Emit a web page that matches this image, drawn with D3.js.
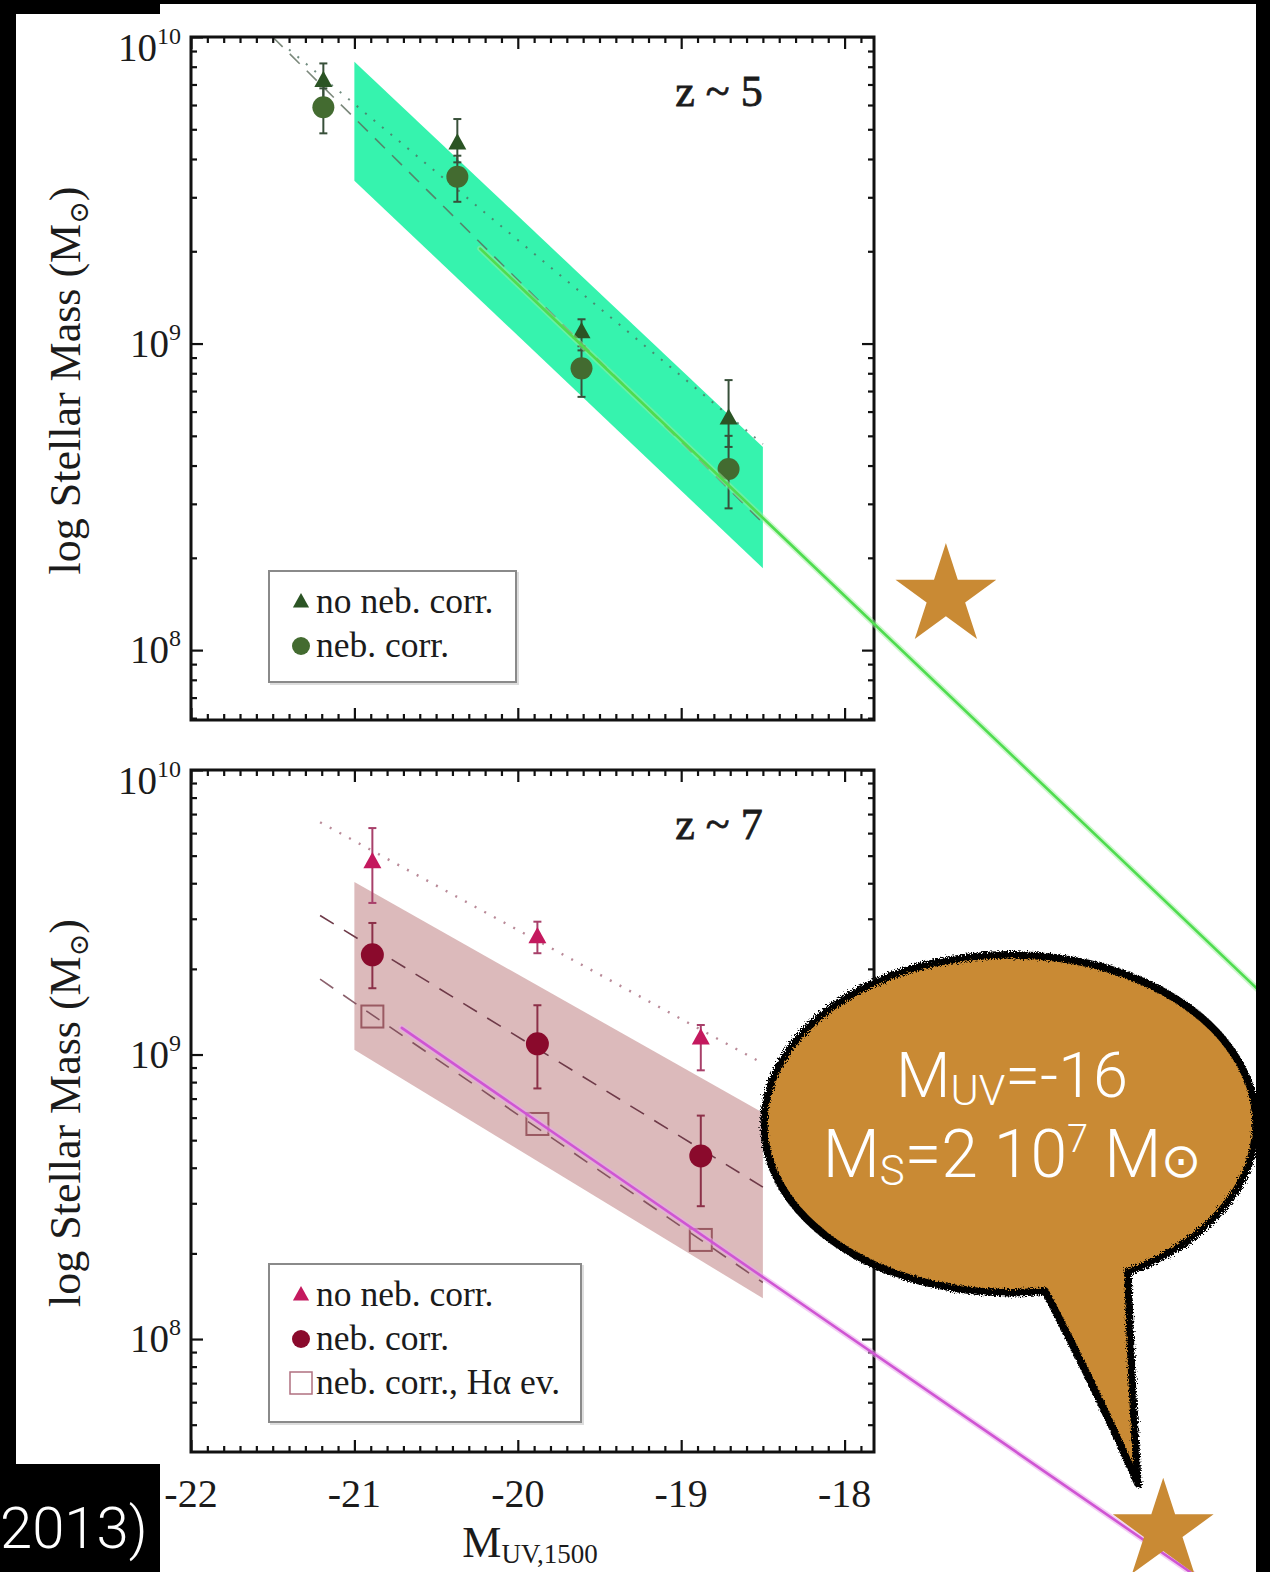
<!DOCTYPE html>
<html>
<head>
<meta charset="utf-8">
<script src="https://cdn.jsdelivr.net/npm/d3@7"></script>
<style>
body{margin:0;background:#000;}
svg{display:block}
text.serif{font-family:"Liberation Serif","DejaVu Serif",serif;fill:#1b1b1b}
text.thin{font-family:"Roboto","Lato",sans-serif;font-weight:300;fill:#fff}
</style>
</head>
<body>
<script>
// ---- data ----
let xTicks = [-22, -21, -20, -19, -18]
let yTickExp = [8, 9, 10]

// z ~ 5
let z5Muv = [-21.19, -20.37, -19.61, -18.71]
let z5NoNeb = [7.2e9, 4.5e9, 1.09e9, 5.7e8]
let z5NoNebHi = [8.2e9, 5.4e9, 1.2e9, 7.6e8]
let z5NoNebLo = [6.3e9, 3.9e9, 9.5e8, 4.6e8]
let z5Neb = [5.9e9, 3.5e9, 8.3e8, 3.9e8]
let z5NebHi = [6.8e9, 4.1e9, 9.8e8, 5.0e8]
let z5NebLo = [4.85e9, 2.9e9, 6.7e8, 2.9e8]
let z5BandMuv = [-21, -18.5]
let z5BandHi = [8.3e9, 4.6e8]
let z5BandLo = [3.4e9, 1.85e8]
let z5DottedMuv = [-21.4, -18.5], z5Dotted = [9.1e9, 4.7e8]
let z5DashedMuv = [-21.5, -18.5], z5Dashed = [1.0e10, 2.6e8]
let z5FitMuv = [-20.23, -15.3], z5Fit = [2.04e9, 6.4e6]

// z ~ 7
let z7Muv = [-20.89, -19.88, -18.88]
let z7NoNeb = [4.75e9, 2.59e9, 1.14e9]
let z7NoNebHi = [6.25e9, 2.93e9, 1.27e9]
let z7NoNebLo = [3.41e9, 2.27e9, 8.8e8]
let z7Neb = [2.24e9, 1.09e9, 4.4e8]
let z7NebHi = [2.9e9, 1.49e9, 6.1e8]
let z7NebLo = [1.71e9, 7.6e8, 2.93e8]
let z7Halpha = [1.36e9, 5.7e8, 2.23e8]
let z7BandMuv = [-21, -18.5]
let z7BandHi = [4.04e9, 6.24e8]
let z7BandLo = [1.04e9, 1.39e8]
let z7DottedMuv = [-21.21, -18.5], z7Dotted = [6.55e9, 9.3e8]
let z7DashedMuv = [-21.21, -18.5], z7Dashed = [3.08e9, 3.42e8]
let z7Dashed2Muv = [-21.21, -18.5], z7Dashed2 = [1.84e9, 1.58e8]
let z7FitMuv = [-20.71, -15.3], z7Fit = [1.24e9, 8.9e6]

// annotation stars (M_UV, mass)
let starTop = [-17.38, 1.5e8]
let starBottom = [-16.05, 2.12e7]

// ---- drawing ----
const W = 1270, H = 1572
const svg = d3.select("body").append("svg").attr("width", W).attr("height", H)

const defs = svg.append("defs")
const rough = defs.append("filter").attr("id", "rough")
  .attr("x", "-10%").attr("y", "-10%").attr("width", "120%").attr("height", "120%")
rough.append("feTurbulence").attr("type", "fractalNoise").attr("baseFrequency", 0.7).attr("numOctaves", 3).attr("result", "n")
rough.append("feDisplacementMap").attr("in", "SourceGraphic").attr("in2", "n").attr("scale", 7)

svg.append("rect").attr("width", W).attr("height", H).attr("fill", "#000")
svg.append("path").attr("d", "M16,14H160V4H1256V1572H16Z").attr("fill", "#fff")

const x = d3.scaleLinear().domain([-22, -17.82]).range([191, 874])

const panels = [
  {top: 37, bottom: 720, yDom: [Math.pow(10, 7.772), 1e10], label: "z ~ 5",
   band: [z5BandMuv, z5BandHi, z5BandLo], bandColor: "#36f3ae"},
  {top: 770, bottom: 1452, yDom: [Math.pow(10, 7.603), 1e10], label: "z ~ 7",
   band: [z7BandMuv, z7BandHi, z7BandLo], bandColor: "#dcbabb"}
]
panels.forEach(p => {
  p.y = d3.scaleLog().domain(p.yDom).range([p.bottom, p.top])
  p.g = svg.append("g")
})

function tri(s) { return `M0,${-s}L${s * 0.9},${s * 0.62}L${-s * 0.9},${s * 0.62}Z` }

let minorX = d3.range(0, 42).map(i => -22 + i / 10).filter(v => Math.abs(v - Math.round(v)) > 1e-6)

function drawFrame(p, showX) {
  let g = p.g
  let y = p.y
  let minorY = []
  ;[7, 8, 9].forEach(d => { for (let k = 2; k <= 9; k++) { let v = k * Math.pow(10, d); if (v >= p.yDom[0] && v <= p.yDom[1]) minorY.push(v) } })
  let majY = yTickExp.map(e => Math.pow(10, e))
  let ax = [
    [d3.axisBottom(x), `translate(0,${p.bottom})`, minorX, xTicks],
    [d3.axisTop(x), `translate(0,${p.top})`, minorX, xTicks],
    [d3.axisLeft(y), `translate(191,0)`, minorY, majY],
    [d3.axisRight(y), `translate(874,0)`, minorY, majY]
  ]
  ax.forEach(a => {
    [[a[2], -6], [a[3], -12]].forEach(t => {
      let axg = g.append("g").attr("transform", a[1])
        .call(a[0].tickValues(t[0]).tickSize(t[1]).tickFormat(""))
      axg.select(".domain").remove()
      axg.selectAll("line").attr("stroke", "#111").attr("stroke-width", 2.2)
    })
  })
  g.append("rect").attr("x", 191).attr("y", p.top).attr("width", 874 - 191).attr("height", p.bottom - p.top)
    .attr("fill", "none").attr("stroke", "#111").attr("stroke-width", 3)

  // y tick labels 10^n
  yTickExp.forEach(e => {
    let cy = Math.max(y(Math.pow(10, e)), p.top + 11)
    let t = g.append("text").attr("class", "serif").attr("x", 181).attr("y", cy + 13)
      .attr("text-anchor", "end").attr("font-size", 39)
    t.append("tspan").text("10")
    t.append("tspan").attr("font-size", 24).attr("dy", -17).text(e)
  })
  if (showX) {
    xTicks.forEach(v => {
      g.append("text").attr("class", "serif").attr("x", x(v)).attr("y", p.bottom + 55)
        .attr("text-anchor", "middle").attr("font-size", 40).text(v)
    })
  }
  // y title
  let cy = (p.top + p.bottom) / 2 + 2
  let yt = g.append("text").attr("class", "serif").attr("font-size", 44)
    .attr("transform", `translate(80,${cy}) rotate(-90)`).attr("text-anchor", "middle")
  yt.append("tspan").text("log Stellar Mass (M")
  yt.append("tspan").attr("font-size", 27).attr("dy", 8).text("⊙")
  yt.append("tspan").attr("dy", -8).text(")")

  g.append("text").attr("class", "serif").attr("x", 719).attr("y", p.top + 69)
    .attr("text-anchor", "middle").attr("font-size", 44)
    .attr("stroke", "#1b1b1b").attr("stroke-width", 0.8).text(p.label)
}

function band(p) {
  let b = p.band
  let pts = [[b[0][0], b[1][0]], [b[0][1], b[1][1]], [b[0][1], b[2][1]], [b[0][0], b[2][0]]]
  p.g.append("path").attr("d", "M" + pts.map(d => [x(d[0]), p.y(d[1])].join(",")).join("L") + "Z")
    .attr("fill", p.bandColor)
}

function fitLine(p, mu, m, color, width, dash, opacity) {
  let line = d3.line().x(d => x(d[0])).y(d => p.y(d[1]))
  return p.g.append("path").attr("d", line(d3.zip(mu, m)))
    .attr("fill", "none").attr("stroke", color).attr("stroke-width", width)
    .attr("stroke-dasharray", dash).attr("opacity", opacity == null ? 1 : opacity)
    .attr("stroke-linecap", dash ? "butt" : "round")
}

function errBars(p, mu, lo, hi, color) {
  d3.range(mu.length).forEach(i => {
    let xx = x(mu[i])
    p.g.append("line").attr("x1", xx).attr("x2", xx).attr("y1", p.y(lo[i])).attr("y2", p.y(hi[i]))
      .attr("stroke", color).attr("stroke-width", 2)
    ;[lo[i], hi[i]].forEach(v => p.g.append("line").attr("x1", xx - 4).attr("x2", xx + 4)
      .attr("y1", p.y(v)).attr("y2", p.y(v)).attr("stroke", color).attr("stroke-width", 2))
  })
}

function legend(p, x0, y0, w, h, items) {
  p.g.append("rect").attr("x", x0 + 2).attr("y", y0 + 2).attr("width", w).attr("height", h)
    .attr("fill", "none").attr("stroke", "#ddd").attr("stroke-width", 2)
  p.g.append("rect").attr("x", x0).attr("y", y0).attr("width", w).attr("height", h)
    .attr("fill", "#fff").attr("stroke", "#8a8a8a").attr("stroke-width", 2)
  items.forEach((it, i) => {
    let cy = y0 + 31 + i * 44
    if (it.type === "tri") p.g.append("path").attr("d", tri(9)).attr("transform", `translate(301,${cy})`).attr("fill", it.color)
    if (it.type === "circ") p.g.append("circle").attr("cx", 301).attr("cy", cy).attr("r", 9).attr("fill", it.color)
    if (it.type === "sq") p.g.append("rect").attr("x", 290).attr("y", cy - 11).attr("width", 22).attr("height", 22)
      .attr("fill", "none").attr("stroke", it.color).attr("stroke-width", 1.5)
    p.g.append("text").attr("class", "serif").attr("x", 316).attr("y", cy + 11).attr("font-size", 35.5).text(it.text)
  })
}

// ---- panel z~5 ----
let P = panels[0]
band(P)
fitLine(P, z5DashedMuv, z5Dashed, "#5a6a5a", 1.6, "14,10", 0.8)
fitLine(P, z5DottedMuv, z5Dotted, "#4e7060", 2, "2,9", 0.8)
errBars(P, z5Muv, z5NoNebLo, z5NoNebHi, "#38503a")
errBars(P, z5Muv, z5NebLo, z5NebHi, "#38503a")
z5Muv.forEach((m, i) => {
  P.g.append("path").attr("d", tri(10)).attr("transform", `translate(${x(m)},${P.y(z5NoNeb[i])})`).attr("fill", "#2b5424")
  P.g.append("circle").attr("cx", x(m)).attr("cy", P.y(z5Neb[i])).attr("r", 11).attr("fill", "#436b30")
})
drawFrame(P, false)
legend(P, 269, 571, 247, 111, [
  {type: "tri", color: "#2b5424", text: "no neb. corr."},
  {type: "circ", color: "#436b30", text: "neb. corr."}
])

// ---- panel z~7 ----
let Q = panels[1]
band(Q)
fitLine(Q, z7DottedMuv, z7Dotted, "#b98a98", 2.4, "2,9")
fitLine(Q, z7DashedMuv, z7Dashed, "#6e3a48", 1.6, "16,12")
fitLine(Q, z7Dashed2Muv, z7Dashed2, "#6e3a48", 1.6, "16,12", 0.8)
errBars(Q, z7Muv, z7NoNebLo, z7NoNebHi, "#a8406a")
errBars(Q, z7Muv, z7NebLo, z7NebHi, "#8c3048")
z7Muv.forEach((m, i) => {
  Q.g.append("path").attr("d", tri(10)).attr("transform", `translate(${x(m)},${Q.y(z7NoNeb[i])})`).attr("fill", "#c4195e")
  Q.g.append("circle").attr("cx", x(m)).attr("cy", Q.y(z7Neb[i])).attr("r", 11.5).attr("fill", "#8a0a2c")
  Q.g.append("rect").attr("x", x(m) - 11).attr("y", Q.y(z7Halpha[i]) - 11).attr("width", 22).attr("height", 22)
    .attr("fill", "none").attr("stroke", "#9a5a62").attr("stroke-width", 2)
})
drawFrame(Q, true)
legend(Q, 269, 1264, 312, 158, [
  {type: "tri", color: "#c4195e", text: "no neb. corr."},
  {type: "circ", color: "#8a0a2c", text: "neb. corr."},
  {type: "sq", color: "#b07080", text: "neb. corr., H\u03b1 ev."}
])

// x title
let xt = svg.append("text").attr("class", "serif").attr("x", 530).attr("y", 1557)
  .attr("text-anchor", "middle").attr("font-size", 44)
xt.append("tspan").text("M")
xt.append("tspan").attr("font-size", 27).attr("dy", 6).text("UV,1500")

// extrapolated fits (drawn over everything, extending past the frame)
fitLine(P, z5FitMuv, z5Fit, "#9cf09c", 6, null, 0.5)
fitLine(P, z5FitMuv, z5Fit, "#4fdc4f", 2.6, null)
fitLine(Q, z7FitMuv, z7Fit, "#eaa6ec", 6, null, 0.55)
fitLine(Q, z7FitMuv, z7Fit, "#cf55d3", 2.6, null)

// stars
const starPath = d3.symbol().type(d3.symbolStar).size(53 * 53 / 0.8908)
svg.append("path").attr("d", starPath()).attr("fill", "#c98a34")
  .attr("transform", `translate(${x(starTop[0])},${P.y(starTop[1])})`)
svg.append("path").attr("d", starPath()).attr("fill", "#c98a34")
  .attr("transform", `translate(${x(starBottom[0])},${Q.y(starBottom[1])})`)

// speech bubble
const bubble = "M1045,1291 A246,169 0 1 1 1128,1272 Q1131,1380 1138,1484 Q1092,1380 1045,1291 Z"
svg.append("path").attr("d", bubble).attr("fill", "#c98a34")
svg.append("path").attr("d", bubble).attr("fill", "none").attr("stroke", "#000")
  .attr("stroke-width", 7.5).attr("stroke-linejoin", "round").attr("filter", "url(#rough)")

let l1 = svg.append("text").attr("class", "thin").attr("x", 1012).attr("y", 1097)
  .attr("text-anchor", "middle").attr("font-size", 63)
l1.append("tspan").text("M")
l1.append("tspan").attr("font-size", 43).attr("dy", 8).text("UV")
l1.append("tspan").attr("dy", -8).text("=-16")
let l2 = svg.append("text").attr("class", "thin").attr("x", 1012).attr("y", 1177)
  .attr("text-anchor", "middle").attr("font-size", 66)
l2.append("tspan").text("M")
l2.append("tspan").attr("font-size", 42).attr("dy", 8).text("S")
l2.append("tspan").attr("dy", -8).text("=2 10")
l2.append("tspan").attr("font-size", 38).attr("dy", -25).text("7")
l2.append("tspan").attr("dy", 25).text(" M")
l2.append("tspan").attr("font-size", 48).text("\u2299")

// black frame parts on top
svg.append("rect").attr("x", 1256).attr("y", 0).attr("width", 14).attr("height", H).attr("fill", "#000")
svg.append("rect").attr("x", 0).attr("y", 1464).attr("width", 160).attr("height", 108).attr("fill", "#000")
svg.append("text").attr("class", "thin").attr("x", 0).attr("y", 1548).attr("font-size", 58).text("2013)")
</script>
</body>
</html>
